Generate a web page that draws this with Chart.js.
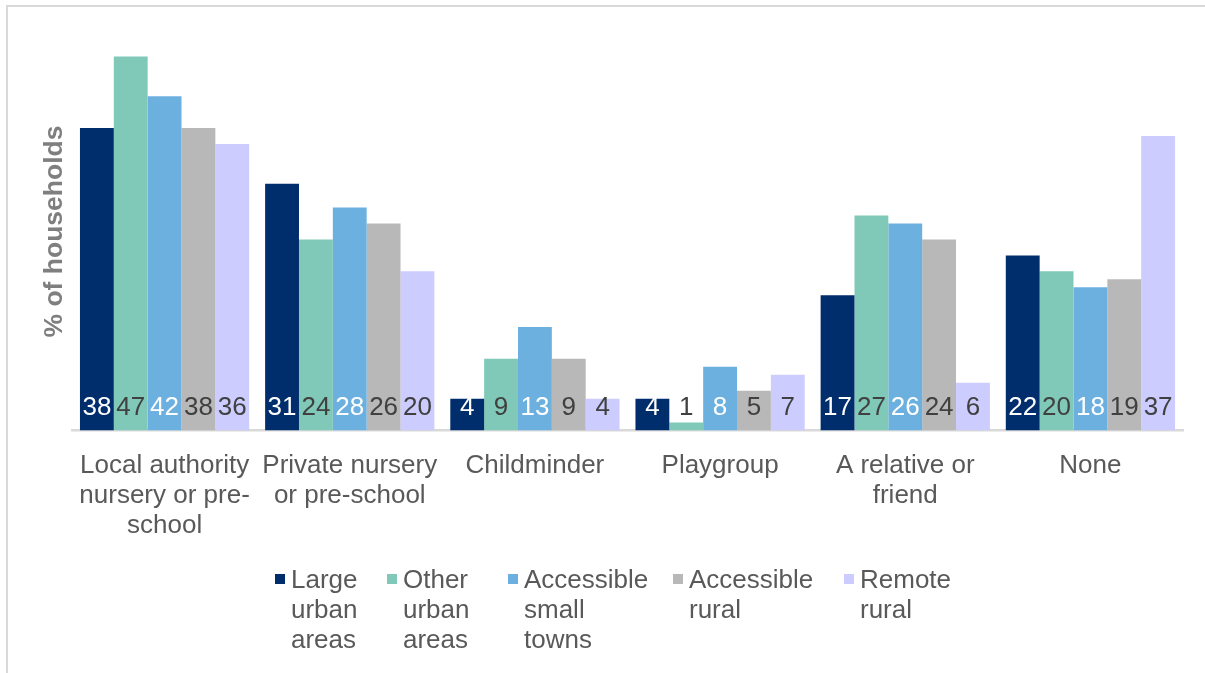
<!DOCTYPE html>
<html>
<head>
<meta charset="utf-8">
<script src="https://cdn.jsdelivr.net/npm/chart.js@4.4.1/dist/chart.umd.min.js"></script>
<style>
    html, body { margin: 0; padding: 0; background: #fff; overflow: hidden; }
    #frame { position: absolute; left: 6px; top: 5px; width: 1300px; height: 800px;
             border-left: 2px solid #d9d9d9; border-top: 2px solid #d9d9d9; }
    #myChart { position: absolute; left: 0; top: 0; }
</style>
</head>
<body>
<div id="frame"></div>
<canvas id="myChart" width="1205" height="673"></canvas>
<script>
// data
const categories = [
    ['Local authority', 'nursery or pre-', 'school'],
    ['Private nursery', 'or pre-school'],
    'Childminder',
    'Playgroup',
    ['A relative or', 'friend'],
    'None'
];
const seriesNames = [
    ['Large', 'urban', 'areas'],
    ['Other', 'urban', 'areas'],
    ['Accessible', 'small', 'towns'],
    ['Accessible', 'rural'],
    ['Remote', 'rural']
];
const largeUrban = [38, 31, 4, 4, 17, 22];
const otherUrban = [47, 24, 9, 1, 27, 20];
const accessibleTowns = [42, 28, 13, 8, 26, 18];
const accessibleRural = [38, 26, 9, 5, 24, 19];
const remoteRural = [36, 20, 4, 7, 6, 37];

// styles
const seriesColors = ['#002D6B', '#80C9B8', '#6CB0E0', '#B8B8B8', '#CCCCFF'];
const valueColors = ['#ffffff', '#404040', '#ffffff', '#404040', '#404040'];
const legendX = [275, 387, 508, 673, 844];
const FONT = '"Liberation Sans", Arial, sans-serif';

Chart.defaults.font.family = FONT;

// value labels at the foot of each bar
const barValues = {
    id: 'barValues',
    afterDatasetsDraw(chart) {
        const ctx = chart.ctx;
        const zero = chart.scales.y.getPixelForValue(0);
        ctx.save();
        ctx.font = '26px ' + FONT;
        ctx.textAlign = 'center';
        ctx.textBaseline = 'alphabetic';
        chart.data.datasets.forEach((ds, i) => {
            ctx.fillStyle = valueColors[i];
            chart.getDatasetMeta(i).data.forEach((bar, j) => {
                ctx.fillText(String(ds.data[j]), bar.x, zero - 16);
            });
        });
        ctx.restore();
    }
};

// legend with wrapped names
const wrappedLegend = {
    id: 'wrappedLegend',
    afterDraw(chart) {
        const ctx = chart.ctx;
        ctx.save();
        ctx.font = '26px ' + FONT;
        ctx.textAlign = 'left';
        ctx.textBaseline = 'alphabetic';
        chart.data.datasets.forEach((ds, i) => {
            const x = legendX[i];
            ctx.fillStyle = ds.backgroundColor;
            ctx.fillRect(x, 574, 10, 10);
            ctx.fillStyle = '#595959';
            seriesNames[i].forEach((line, k) => {
                ctx.fillText(line, x + 16, 587.5 + k * 30);
            });
        });
        ctx.restore();
    }
};

const data = {
    labels: categories,
    datasets: [largeUrban, otherUrban, accessibleTowns, accessibleRural, remoteRural].map((vals, i) => ({
        label: seriesNames[i].join(' '),
        data: vals,
        backgroundColor: seriesColors[i],
        borderWidth: 0,
        barPercentage: 1,
        categoryPercentage: 0.914
    }))
};

const config = {
    type: 'bar',
    data,
    options: {
        responsive: false,
        animation: false,
        devicePixelRatio: 1,
        layout: { padding: { top: 32.5, right: 22, bottom: 0, left: 0 } },
        plugins: {
            legend: { display: false },
            tooltip: { enabled: false }
        },
        scales: {
            x: {
                z: 1,
                grid: { display: false, drawTicks: false },
                border: { display: true, color: '#d9d9d9', width: 2.4 },
                ticks: {
                    color: '#595959',
                    font: { size: 26, lineHeight: 1.16 },
                    padding: 20,
                    maxRotation: 0,
                    minRotation: 0,
                    autoSkip: false
                },
                afterFit(scale) { scale.height = 242.5; }
            },
            y: {
                min: 0,
                max: 50,
                grid: { display: false, drawTicks: false },
                border: { display: false },
                ticks: { display: false },
                title: {
                    display: true,
                    text: '% of households',
                    color: '#7f7f7f',
                    font: { size: 26.5, weight: 'bold' },
                    padding: { top: 39, bottom: 0 }
                },
                afterFit(scale) { scale.width = 72; }
            }
        }
    },
    plugins: [barValues, wrappedLegend]
};

const myChart = new Chart(document.getElementById('myChart'), config);
</script>
</body>
</html>
